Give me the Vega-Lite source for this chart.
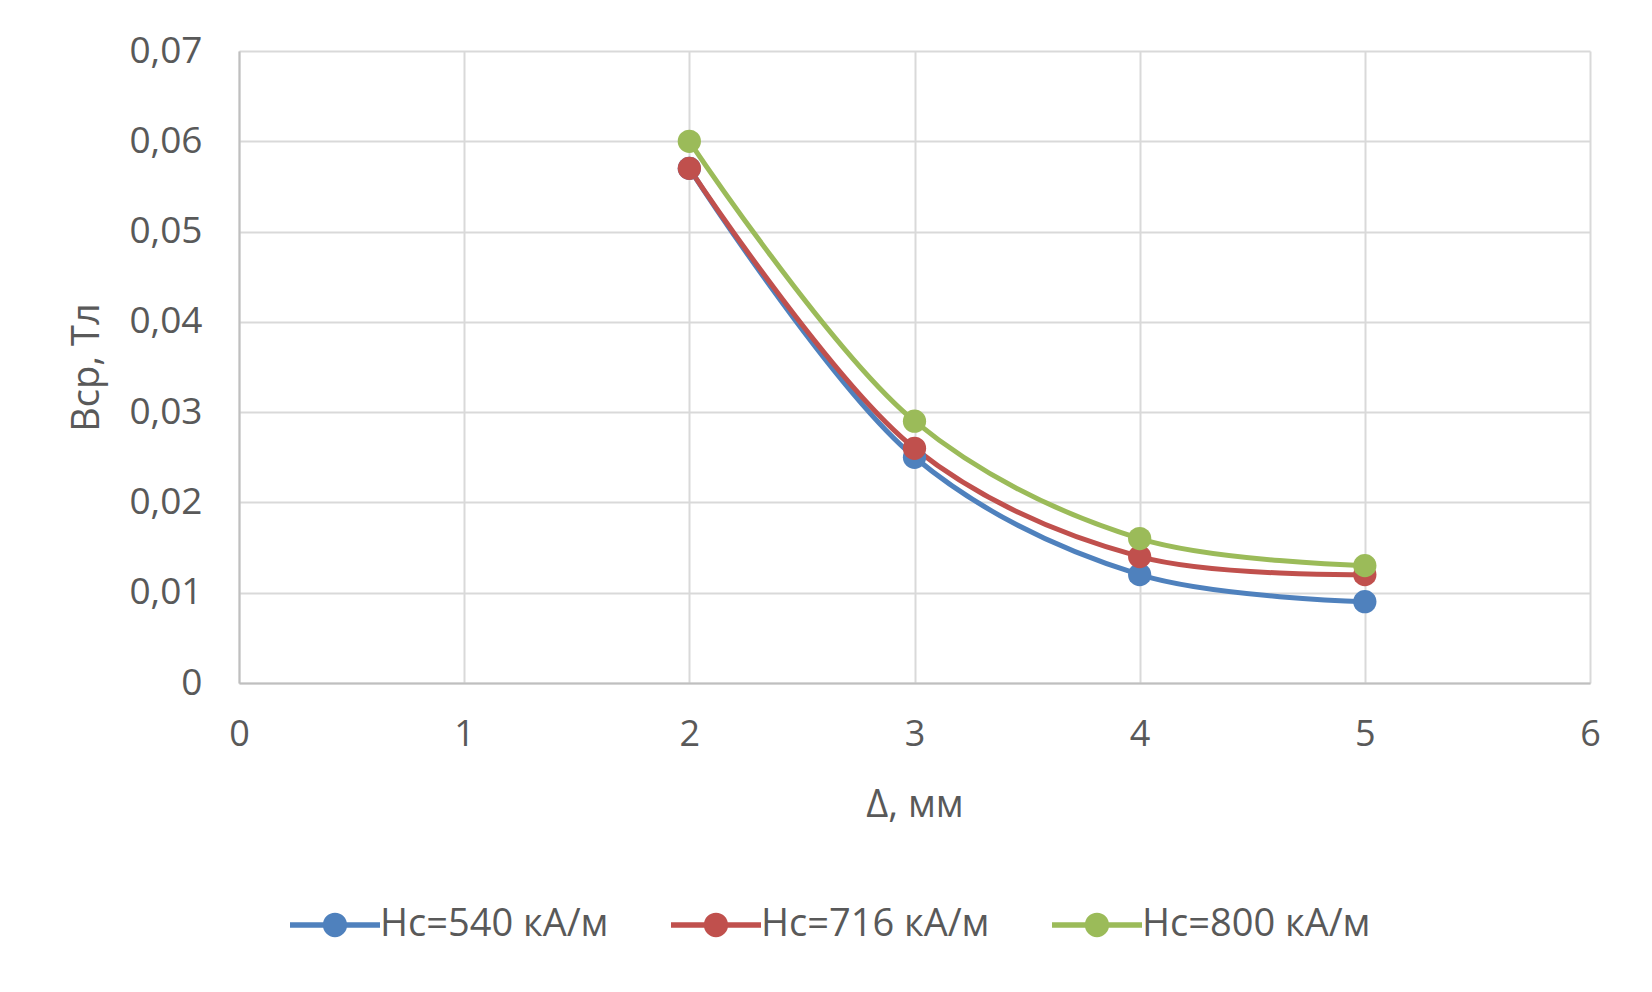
{
  "$schema": "https://vega.github.io/schema/vega-lite/v6.json",
  "width": 1351,
  "height": 632,
  "autosize": {"type": "none"},
  "padding": {"left": 239, "top": 51, "right": 62, "bottom": 309},
  "background": "white",
  "data": {
    "values": [
      {"d": 2, "B": 0.057, "s": "Hc=540 кА/м"},
      {"d": 3, "B": 0.025, "s": "Hc=540 кА/м"},
      {"d": 4, "B": 0.012, "s": "Hc=540 кА/м"},
      {"d": 5, "B": 0.009, "s": "Hc=540 кА/м"},
      {"d": 2, "B": 0.057, "s": "Hc=716 кА/м"},
      {"d": 3, "B": 0.026, "s": "Hc=716 кА/м"},
      {"d": 4, "B": 0.014, "s": "Hc=716 кА/м"},
      {"d": 5, "B": 0.012, "s": "Hc=716 кА/м"},
      {"d": 2, "B": 0.060, "s": "Hc=800 кА/м"},
      {"d": 3, "B": 0.029, "s": "Hc=800 кА/м"},
      {"d": 4, "B": 0.016, "s": "Hc=800 кА/м"},
      {"d": 5, "B": 0.013, "s": "Hc=800 кА/м"}
    ]
  },
  "encoding": {
    "x": {
      "field": "d", "type": "quantitative",
      "scale": {"domain": [0, 6], "nice": false, "zero": false},
      "axis": {
        "title": "Δ, мм",
        "values": [0, 1, 2, 3, 4, 5, 6],
        "labelFlush": false,
        "titlePadding": 34
      }
    },
    "y": {
      "field": "B", "type": "quantitative",
      "scale": {"domain": [0, 0.07], "nice": false},
      "axis": {
        "title": "Вср, Тл",
        "values": [0, 0.01, 0.02, 0.03, 0.04, 0.05, 0.06, 0.07],
        "labelExpr": "datum.value == 0 ? '0' : replace(format(datum.value, '.2f'), '.', ',')",
        "labelFontSize": 37,
        "labelPadding": 37,
        "titlePadding": 22
      }
    },
    "color": {
      "field": "s", "type": "nominal",
      "scale": {"range": ["#4f81bd", "#c0504d", "#9bbb59"]},
      "legend": {
        "title": null,
        "orient": "none",
        "direction": "horizontal",
        "legendX": 51,
        "legendY": 829,
        "symbolType": "M-1,-0.06L1,-0.06L1,0.06L-1,0.06Z M-0.27,0 A0.27,0.27 0 1,1 0.27,0 A0.27,0.27 0 1,1 -0.27,0 Z",
        "symbolSize": 8100,
        "symbolStrokeWidth": 0,
        "symbolOpacity": 1,
        "labelOffset": 0,
        "columnPadding": 62,
        "labelFontSize": 38,
        "labelFont": "Open Sans",
        "labelColor": "#595959",
        "labelLimit": 400
      }
    }
  },
  "layer": [
    {
      "mark": {"type": "line", "interpolate": "catmull-rom", "strokeWidth": 5}
    },
    {
      "mark": {"type": "point", "filled": true, "size": 540, "opacity": 1}
    }
  ],
  "config": {
    "view": {"stroke": null},
    "font": "Open Sans",
    "axis": {
      "labelFont": "Open Sans",
      "titleFont": "Open Sans",
      "labelFontSize": 36,
      "titleFontSize": 38,
      "titleFontWeight": "normal",
      "labelColor": "#595959",
      "titleColor": "#595959",
      "gridColor": "#d9d9d9",
      "gridWidth": 2,
      "domainColor": "#bfbfbf",
      "domainWidth": 2,
      "ticks": false,
      "labelPadding": 34,
      "grid": true
    }
  }
}
